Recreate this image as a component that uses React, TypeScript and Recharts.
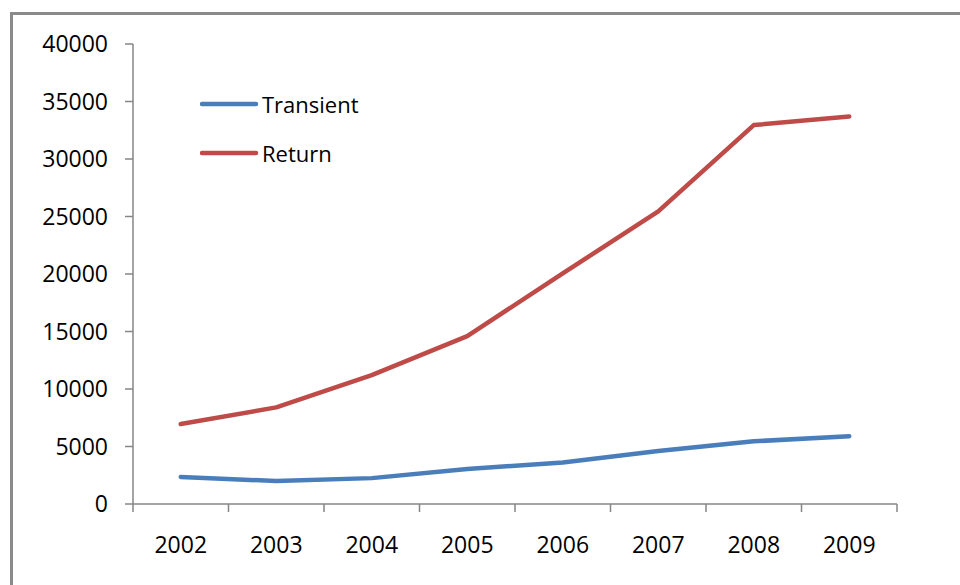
import { LineChart, Line, XAxis, YAxis, Legend } from "recharts";

const years = ["2002", "2003", "2004", "2005", "2006", "2007", "2008", "2009"];
const transient = [2350, 2000, 2250, 3050, 3600, 4600, 5450, 5900];
const returning = [6950, 8400, 11200, 14600, 20050, 25450, 32950, 33700];
const yTicks = [0, 5000, 10000, 15000, 20000, 25000, 30000, 35000, 40000];
const legendOrder = ["Transient", "Return"];

// x runs 0..8, each year sits in the middle of its slot, ticks on the slot edges
const xTicks = [0, 0.5, 1, 1.5, 2, 2.5, 3, 3.5, 4, 4.5, 5, 5.5, 6, 6.5, 7, 7.5, 8];

const data = years.map((y, i) => ({
  pos: i + 0.5,
  year: y,
  transient: transient[i],
  returning: returning[i],
}));

const FONT = "'Open Sans', 'Noto Sans', sans-serif";
const FONT_SIZE = 23;
const AXIS = "#868686";
const BLUE = "#4A7EBB";
const RED = "#BE4B48";
const TICK_SIZE = 8;
const TICK_MARGIN = 25;

function XTick(props: any) {
  const { x, y, payload } = props;
  const v = payload.value as number;
  if (Number.isInteger(v)) {
    const top = y - TICK_MARGIN - TICK_SIZE;
    return <line x1={x} x2={x} y1={top} y2={top + TICK_SIZE} stroke={AXIS} strokeWidth={1.5} />;
  }
  const label = years[Math.floor(v)] ?? "";
  return (
    <text x={x} y={y} dy="0.71em" textAnchor="middle" fill="#000" fontSize={FONT_SIZE} fontFamily={FONT}>
      {label}
    </text>
  );
}

function LegendBox(props: any) {
  const items = [...(props.payload ?? [])].sort(
    (a: any, b: any) => legendOrder.indexOf(a.value) - legendOrder.indexOf(b.value)
  );
  return (
    <div style={{ fontFamily: FONT, fontSize: FONT_SIZE - 1, color: "#000" }}>
      {items.map((it: any) => (
        <div key={it.value} style={{ display: "flex", alignItems: "center", height: 49 }}>
          <svg width={62} height={10} style={{ display: "block" }}>
            <line x1={2} x2={56} y1={5} y2={5} stroke={it.color} strokeWidth={4.5} strokeLinecap="round" />
          </svg>
          <span style={{ lineHeight: "22px" }}>{it.value}</span>
        </div>
      ))}
    </div>
  );
}

export default function App() {
  return (
    <div
      style={{
        position: "fixed",
        left: 0,
        top: 0,
        width: 960,
        height: 585,
        overflow: "hidden",
        background: "#fff",
      }}
    >
      <div
        style={{
          position: "absolute",
          left: 10,
          top: 12,
          width: 1000,
          height: 700,
          borderLeft: "3px solid #8a8a8a",
          borderTop: "3px solid #8a8a8a",
        }}
      />
      <div style={{ position: "absolute", left: 0, top: 0 }}>
        <LineChart width={960} height={585} data={data} margin={{ top: 44, right: 63, bottom: 0, left: 0 }}>
          <XAxis
            dataKey="pos"
            type="number"
            domain={[0, 8]}
            ticks={xTicks}
            interval={0}
            height={81}
            tickLine={false}
            tickSize={TICK_SIZE}
            tickMargin={TICK_MARGIN}
            tick={<XTick />}
            axisLine={{ stroke: AXIS, strokeWidth: 1.5 }}
          />
          <YAxis
            width={133}
            domain={[0, 40000]}
            ticks={yTicks}
            interval={0}
            tickSize={TICK_SIZE}
            tickMargin={17}
            axisLine={{ stroke: AXIS, strokeWidth: 1.5 }}
            tickLine={{ stroke: AXIS, strokeWidth: 1.5 }}
            tick={{ fill: "#000", fontSize: FONT_SIZE, fontFamily: FONT }}
          />
          <Legend
            layout="horizontal"
            verticalAlign="middle"
            align="center"
            content={<LegendBox />}
            wrapperStyle={{ left: 200, top: 79, width: 200 }}
          />
          <Line
            dataKey="transient"
            name="Transient"
            stroke={BLUE}
            strokeWidth={4.5}
            strokeLinecap="round"
            strokeLinejoin="round"
            dot={false}
            activeDot={false}
            isAnimationActive={false}
          />
          <Line
            dataKey="returning"
            name="Return"
            stroke={RED}
            strokeWidth={4.5}
            strokeLinecap="round"
            strokeLinejoin="round"
            dot={false}
            activeDot={false}
            isAnimationActive={false}
          />
        </LineChart>
      </div>
    </div>
  );
}
